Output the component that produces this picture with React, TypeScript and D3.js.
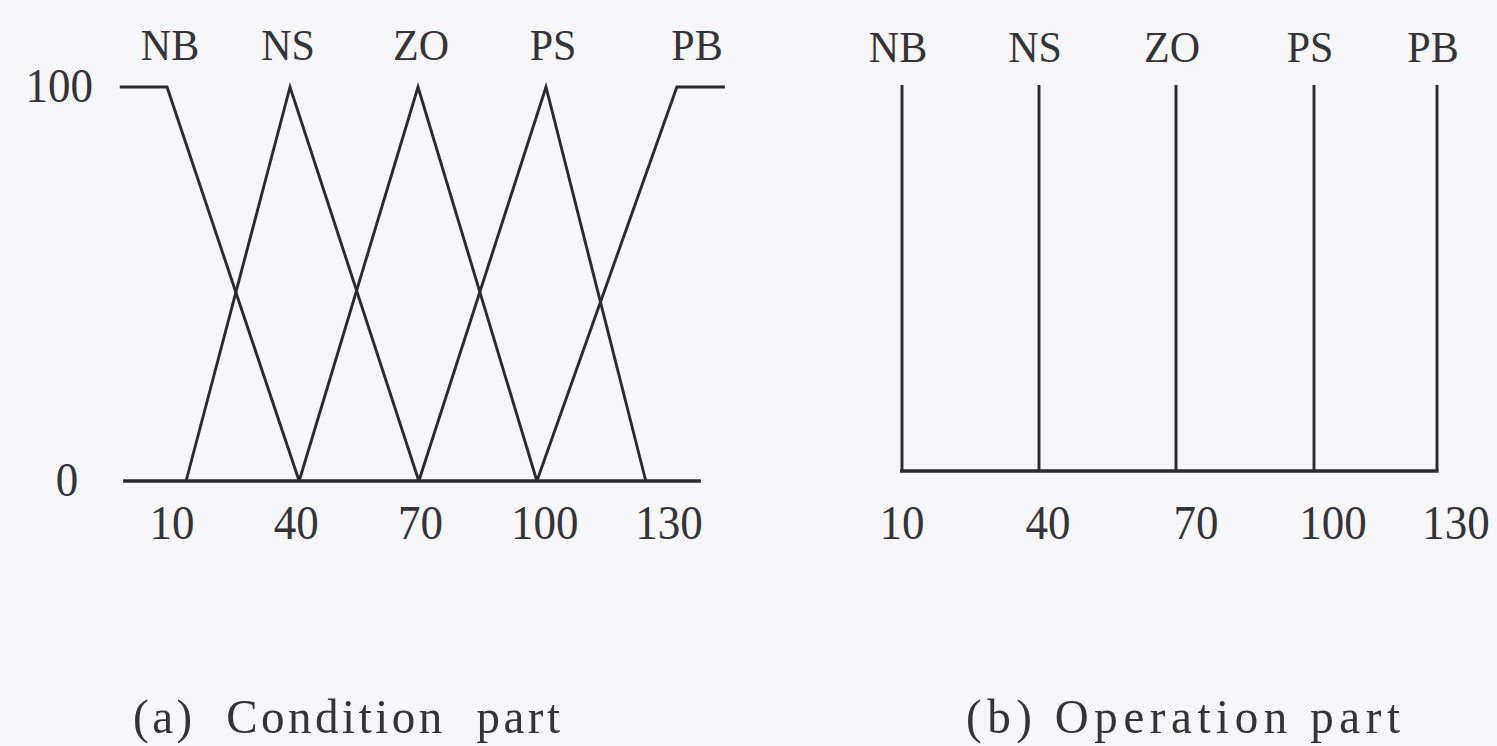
import React from "react";
import * as d3 from "d3";

// Fuzzy labels shared by both panels
const SET_NAMES = ["NB", "NS", "ZO", "PS", "PB"];
const TICK_VALUES = [10, 40, 70, 100, 130];
const Y_TICKS = [0, 100];

// (a) Condition part: membership functions as [x, grade] break points
const NB_COND: [number, number][] = [[-2.6, 100], [8.8, 100], [40.7, 0]];
const NS_COND: [number, number][] = [[13.4, 0], [38.5, 100], [69.6, 0]];
const ZO_COND: [number, number][] = [[40.7, 0], [69.4, 100], [98.1, 0]];
const PS_COND: [number, number][] = [[69.6, 0], [100.3, 100], [124.4, 0]];
const PB_COND: [number, number][] = [[98.1, 0], [131.9, 100], [143.5, 100]];
const COND_AXIS_EXTENT = [-1.8, 137.7];

// (b) Operation part: singletons
const OP_POSITIONS = [10, 40, 70, 100, 130];
const OP_GRADES = [100, 100, 100, 100, 100];

// Panel captions
const CAPTION_A = "(a)  Condition  part";
const CAPTION_B = "(b) Operation part";

const W = 1497;
const H = 746;
const INK = "#2b2b2f";
const FONT = "'Liberation Serif', 'DejaVu Serif', serif";
const TEXT_FILL = "#333338";

type LabelProps = {
  x: number;
  y: number;
  size: number;
  anchor?: "start" | "middle" | "end";
  stretch?: number;
  length?: number;
  children: React.ReactNode;
};

// Serif label, slightly stretched vertically around its baseline
function Label({ x, y, size, anchor = "middle", stretch = 1.1, length, children }: LabelProps) {
  return (
    <text
      transform={`translate(${x},${y}) scale(1,${stretch})`}
      textAnchor={anchor}
      fontSize={size}
      fontFamily={FONT}
      fill={TEXT_FILL}
      textLength={length}
      lengthAdjust={length ? "spacing" : undefined}
      xmlSpace="preserve"
      style={{ whiteSpace: "pre" }}
    >
      {children}
    </text>
  );
}

export default function App() {
  // Condition panel scales
  const xA = d3.scaleLinear().domain([10, 130]).range([172, 669]);
  const yA = d3.scaleLinear().domain([0, 100]).range([481, 87]);
  const nameA = d3.scaleLinear().domain(TICK_VALUES).range([170, 288, 421, 553, 697]);

  // Operation panel scales
  const xB = d3.scaleLinear().domain(TICK_VALUES).range([902, 1039, 1176, 1314, 1437]);
  const tickB = d3.scaleLinear().domain(TICK_VALUES).range([902, 1048, 1196, 1333, 1456]);
  const yB = d3.scaleLinear().domain([0, 100]).range([471, 85]);

  const lineA = d3
    .line<[number, number]>()
    .x((d) => xA(d[0]))
    .y((d) => yA(d[1]));

  const condSets = [NB_COND, NS_COND, ZO_COND, PS_COND, PB_COND];

  return (
    <svg
      width={W}
      height={H}
      viewBox={`0 0 ${W} ${H}`}
      style={{ position: "absolute", left: 0, top: 0, display: "block" }}
    >
      <rect x={0} y={0} width={W} height={H} fill="#f6f6f8" />

      {/* (a) Condition part */}
      <g>
        {Y_TICKS.map((v) => (
          <Label
            key={"ya" + v}
            x={v === 0 ? 67 : 93}
            y={yA(v) + 15}
            size={45}
            anchor={v === 0 ? "middle" : "end"}
          >
            {v}
          </Label>
        ))}
        <line
          x1={xA(COND_AXIS_EXTENT[0])}
          x2={xA(COND_AXIS_EXTENT[1])}
          y1={yA(0)}
          y2={yA(0)}
          stroke={INK}
          strokeWidth={3.5}
        />
        {condSets.map((pts, i) => (
          <path
            key={"m" + i}
            d={lineA(pts) ?? ""}
            fill="none"
            stroke={INK}
            strokeWidth={2.9}
            strokeLinejoin="miter"
          />
        ))}
        {SET_NAMES.map((n, i) => (
          <Label key={"na" + n} x={nameA(TICK_VALUES[i])} y={60} size={42} stretch={1.05}>
            {n}
          </Label>
        ))}
        {TICK_VALUES.map((v) => (
          <Label key={"ta" + v} x={xA(v)} y={539} size={45}>
            {v}
          </Label>
        ))}
        <Label x={133} y={733} size={47} anchor="start" stretch={1.05} length={427}>
          {CAPTION_A}
        </Label>
      </g>

      {/* (b) Operation part */}
      <g>
        <line
          x1={xB(OP_POSITIONS[0]) - 2}
          x2={xB(OP_POSITIONS[OP_POSITIONS.length - 1]) + 1.5}
          y1={yB(0)}
          y2={yB(0)}
          stroke={INK}
          strokeWidth={3.5}
        />
        {OP_POSITIONS.map((v, i) => (
          <line
            key={"op" + v}
            x1={xB(v)}
            x2={xB(v)}
            y1={yB(0)}
            y2={yB(OP_GRADES[i])}
            stroke={INK}
            strokeWidth={2.9}
          />
        ))}
        {SET_NAMES.map((n, i) => (
          <Label key={"nb" + n} x={xB(OP_POSITIONS[i]) - 4} y={62} size={42} stretch={1.05}>
            {n}
          </Label>
        ))}
        {TICK_VALUES.map((v) => (
          <Label key={"tb" + v} x={tickB(v)} y={539} size={45}>
            {v}
          </Label>
        ))}
        <Label x={966} y={733} size={47} anchor="start" stretch={1.05} length={434}>
          {CAPTION_B}
        </Label>
      </g>
    </svg>
  );
}
